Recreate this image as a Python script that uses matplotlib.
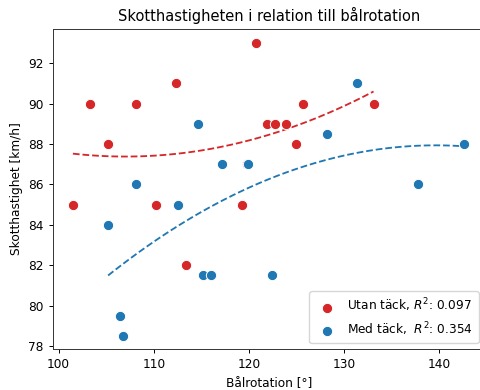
import numpy as np
import matplotlib
matplotlib.use("Agg")
import matplotlib.pyplot as plt

# Data
utan_x = [101.5, 103.3, 105.2, 108.1, 110.2, 112.3, 113.4, 119.3, 119.8, 120.7,
          121.9, 122.7, 123.9, 124.9, 125.7, 133.1]
utan_y = [85, 90, 88, 90, 85, 91, 82, 85, 87, 93, 89, 89, 89, 88, 90, 90]
med_x = [105.2, 106.4, 106.8, 108.1, 112.5, 114.6, 115.2, 116.0, 117.2, 119.9,
         122.4, 128.2, 131.4, 137.8, 142.6]
med_y = [84, 79.5, 78.5, 86, 85, 89, 81.5, 81.5, 87, 87, 81.5, 88.5, 91, 86, 88]
labels = ["Utan täck, $R^2$: 0.097", "Med täck,  $R^2$: 0.354"]
colors = ["#d62728", "#1f77b4"]

sc = 0.874
plt.rcParams.update({
    "font.size": 10 * sc,
    "axes.linewidth": 0.8 * sc,
    "xtick.major.width": 0.8 * sc,
    "ytick.major.width": 0.8 * sc,
    "xtick.major.size": 3.5 * sc,
    "ytick.major.size": 3.5 * sc,
    "axes.edgecolor": "#333333",
})

fig = plt.figure(figsize=(4.81, 3.90), dpi=100)
ax = fig.add_axes([0.110, 0.105, 0.898, 0.821])

for xs, ys, lab, c in [(utan_x, utan_y, labels[0], colors[0]),
                        (med_x, med_y, labels[1], colors[1])]:
    xs = np.array(xs); ys = np.array(ys)
    ax.scatter(xs, ys, s=55, color=c, edgecolor="white", linewidth=0.7, label=lab, zorder=3)
    p = np.polyfit(xs, ys, 2)
    xx = np.linspace(xs.min(), xs.max(), 100)
    ax.plot(xx, np.polyval(p, xx), "--", color=c, lw=1.5 * sc, zorder=2)

ax.set_xlim(99.4, 144.8)
ax.set_ylim(77.85, 93.7)
ax.set_xticks([100, 110, 120, 130, 140])
ax.set_yticks([78, 80, 82, 84, 86, 88, 90, 92])
ax.set_title("Skotthastigheten i relation till bålrotation", fontsize=12 * sc)
ax.set_xlabel("Bålrotation [°]")
ax.set_ylabel("Skotthastighet [km/h]")
ax.legend(loc="lower right", borderpad=0.45, labelspacing=0.45, handletextpad=0.7)
fig.savefig("out.png", dpi=100)
